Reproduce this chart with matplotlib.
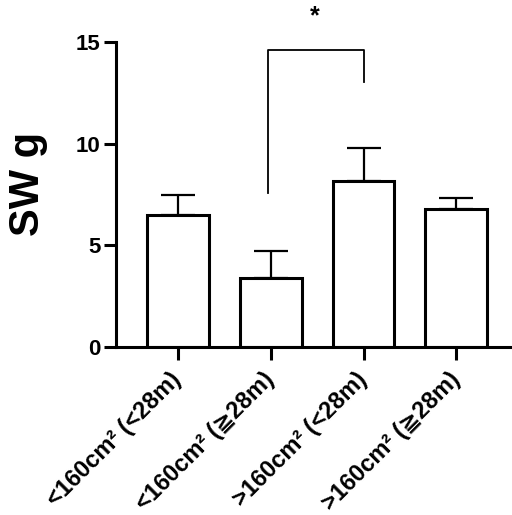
import matplotlib.pyplot as plt
import numpy as np

plt.rcParams['font.family'] = ['Liberation Sans', 'DejaVu Sans']
plt.rcParams['font.weight'] = 'bold'

# dados
grupos = ['<160cm² (<28m)', '<160cm² (≧28m)', '>160cm² (<28m)', '>160cm² (≧28m)']
medias = [6.48, 3.42, 8.16, 6.79]
erros = [1.0, 1.32, 1.64, 0.53]
yticks = [0, 5, 10, 15]

fig = plt.figure(figsize=(5.12, 5.15), dpi=100)
ax = fig.add_axes([0.2266, 0.326, 0.7734, 0.592])

x = np.arange(len(grupos))
ax.bar(x, medias, width=0.667, color='white', edgecolor='black', linewidth=2.2, zorder=2)
# so a barra de erro superior
ax.errorbar(x, medias, yerr=[np.zeros(len(erros)), erros], fmt='none', ecolor='black',
            elinewidth=1.6, capsize=12, capthick=1.6, zorder=1)

ax.set_xlim(-0.667, 3.6)
ax.set_ylim(0, 15)
ax.set_yticks(yticks)
ax.set_xticks(x)
ax.set_xticklabels(grupos, rotation=45, ha='right', va='center', rotation_mode='anchor',
                   fontsize=17, fontweight='bold')
ax.tick_params(axis='y', labelsize=16, width=2.2, length=9, pad=2)
ax.tick_params(axis='x', width=2.2, length=9, pad=12)
for lbl in ax.get_yticklabels():
    lbl.set_fontweight('bold')

ax.spines['top'].set_visible(False)
ax.spines['right'].set_visible(False)
ax.spines['left'].set_linewidth(2.2)
ax.spines['bottom'].set_linewidth(2.2)

ax.set_ylabel('SW g', fontsize=30, fontweight='bold')
ax.yaxis.set_label_coords(-0.172, 0.535)

# colchete de significancia
ax.plot([0.97, 0.97, 2.0, 2.0], [7.6, 14.6, 14.6, 13.06], color='black', lw=1.3, clip_on=False)
ax.text(1.47, 15.7, '*', ha='center', va='bottom', fontsize=18, fontweight='bold')

plt.savefig('out.png', dpi=100)
